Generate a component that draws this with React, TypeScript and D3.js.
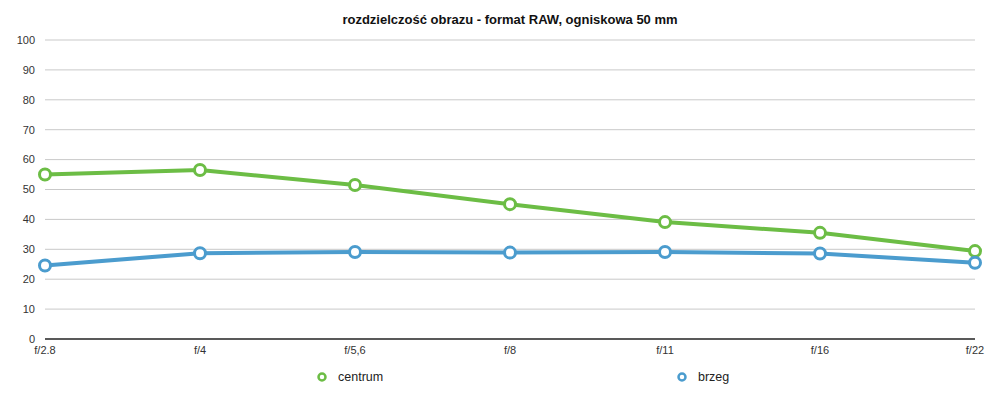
import React from 'react';
import * as d3 from 'd3';

// f-stop categories and measured resolution
const apertures = ['f/2.8', 'f/4', 'f/5,6', 'f/8', 'f/11', 'f/16', 'f/22'];
const centrum = [55, 56.5, 51.5, 45.1, 39.1, 35.5, 29.4];
const brzeg = [24.6, 28.7, 29.1, 28.9, 29.1, 28.6, 25.5];
const yTicks = [0, 10, 20, 30, 40, 50, 60, 70, 80, 90, 100];

const series = [
  { name: 'centrum', values: centrum, color: '#6cbd45', legendX: 322 },
  { name: 'brzeg', values: brzeg, color: '#4b9cce', legendX: 682 },
];

const W = 1000;
const H = 394;
const margin = { top: 40, right: 25, bottom: 55, left: 45 };

const App = () => {
  const x = d3
    .scalePoint<string>()
    .domain(apertures)
    .range([margin.left, W - margin.right]);
  const y = d3
    .scaleLinear()
    .domain([0, 100])
    .range([H - margin.bottom, margin.top]);

  const line = d3
    .line<number>()
    .x((_, i) => x(apertures[i]) as number)
    .y(d => y(d));

  const font = '"Liberation Sans", Arial, Helvetica, sans-serif';

  return (
    <svg width={W} height={H} style={{ position: 'absolute', left: 0, top: 0, fontFamily: font }}>
      <rect width={W} height={H} fill="#fff" />
      <text x={510} y={24} textAnchor="middle" fontSize={13} fontWeight="bold" fill="#111">
        rozdzielczość obrazu - format RAW, ogniskowa 50 mm
      </text>

      {/* grid + y labels */}
      {yTicks.map(t => (
        <g key={t}>
          {t > 0 && (
            <line x1={margin.left} x2={W - margin.right} y1={y(t)} y2={y(t)} stroke="#c9c9c9" strokeWidth={1} />
          )}
          <text x={35} y={y(t)} dy="0.35em" textAnchor="end" fontSize={11} fill="#333">
            {t}
          </text>
        </g>
      ))}
      <line x1={margin.left} x2={W - margin.right} y1={y(0)} y2={y(0)} stroke="#222" strokeWidth={1.3} />

      {/* x labels */}
      {apertures.map(a => (
        <text key={a} x={x(a)} y={354} textAnchor="middle" fontSize={11} fill="#333">
          {a}
        </text>
      ))}

      {/* lines + markers */}
      {series.map(s => (
        <g key={s.name}>
          <path d={line(s.values) || ''} fill="none" stroke={s.color} strokeWidth={4} strokeLinejoin="round" />
          {s.values.map((v, i) => (
            <circle key={i} cx={x(apertures[i])} cy={y(v)} r={5.5} fill="#fff" stroke={s.color} strokeWidth={3} />
          ))}
        </g>
      ))}

      {/* legend */}
      {series.map(s => (
        <g key={s.name} transform={`translate(${s.legendX},377)`}>
          <circle r={3.5} fill="#fff" stroke={s.color} strokeWidth={2.5} />
          <text x={16} dy="0.35em" fontSize={12.5} fill="#222">
            {s.name}
          </text>
        </g>
      ))}
    </svg>
  );
};

export default App;
